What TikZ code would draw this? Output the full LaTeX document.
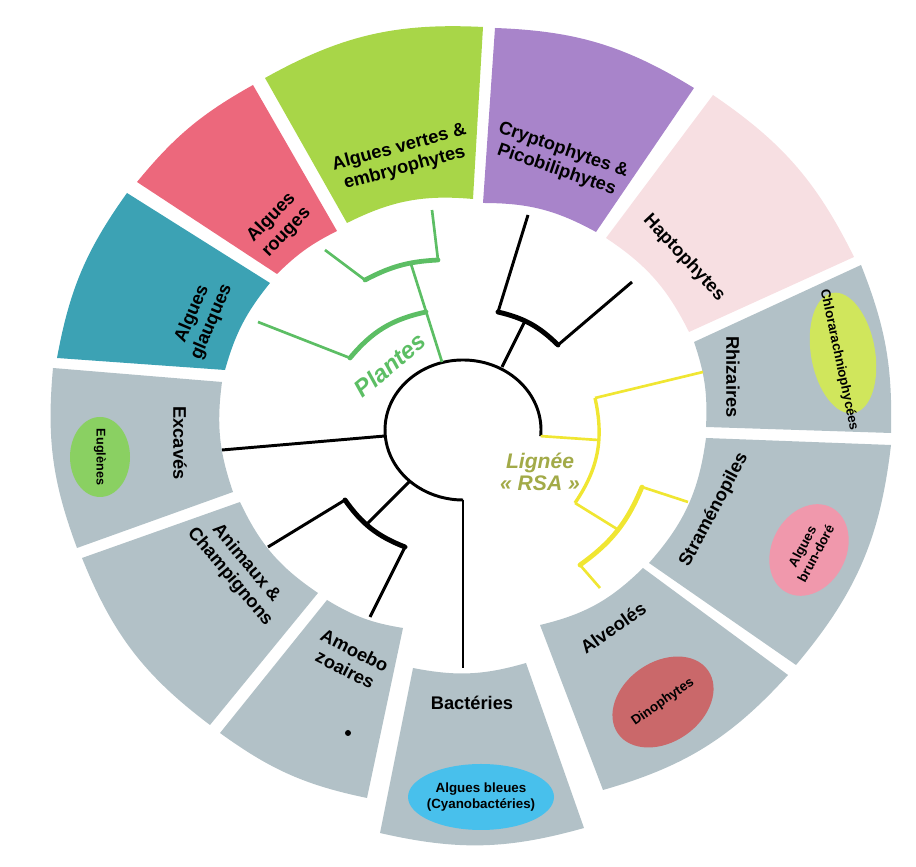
\documentclass[tikz,border=0pt]{standalone}
\usepackage{fontspec}
\setmainfont{Liberation Sans}

\definecolor{crypto}{RGB}{168,132,202}
\definecolor{vertes}{RGB}{168,214,72}
\definecolor{rouges}{RGB}{236,104,124}
\definecolor{glauques}{RGB}{60,162,180}
\definecolor{hapto}{RGB}{247,223,226}
\definecolor{grisbleu}{RGB}{178,193,199}
\definecolor{chlora}{RGB}{208,230,92}
\definecolor{euglene}{RGB}{138,208,98}
\definecolor{brundore}{RGB}{240,152,172}
\definecolor{dino}{RGB}{202,104,106}
\definecolor{cyano}{RGB}{72,192,236}
\definecolor{plantes}{RGB}{92,190,100}
\definecolor{rsa}{RGB}{240,230,50}
\definecolor{rsatext}{RGB}{162,170,72}

\tikzset{
  lab/.style={font=\bfseries\fontsize{13}{15}\selectfont, align=center, inner sep=0pt},
  petit/.style={font=\bfseries\fontsize{9.5}{11}\selectfont, align=center, inner sep=0pt},
  branche/.style={line width=2.1pt, line join=miter},
  barre/.style={line width=3.5pt, line cap=round},
  brfine/.style={line width=1.9pt},
  barfine/.style={line width=3.4pt, line cap=round}
}

\begin{document}
\begin{tikzpicture}[x=0.025cm,y=0.025cm]
\useasboundingbox (0,0) rectangle (916,867);

% anneau
\fill[grisbleu] (891,422) to[bend left=16.7] (796,202) -- (649,304) to[bend right=16.9] (706,429) -- cycle; % stramenopiles
\fill[grisbleu] (788,192) to[bend left=15.9] (603,77) -- (540,242) to[bend right=15.5] (643,299) -- cycle; % alveoles
\fill[grisbleu] (584,39) to[bend left=14.3] (380,34) -- (413,199) to[bend right=13.6] (526,204) -- cycle; % bacteries
\fill[grisbleu] (367,69) to[bend left=12.1] (220,134) -- (327,267) to[bend right=11] (403,239) -- cycle; % amoebozoaires
\fill[grisbleu] (210,142) to[bend left=15.5] (82,309) -- (240,365) to[bend right=15.3] (318,274) -- cycle; % animaux
\fill[grisbleu] (77,319) to[bend left=12.8] (53,499) -- (222,485) to[bend right=13.2] (233,375) -- cycle; % excaves
\fill[glauques] (57,509) to[bend left=12.6] (127,674) -- (270,584) to[bend right=11.6] (225,497) -- cycle;
\fill[rouges] (137,685) to[bend left=10.7] (253,782) -- (337,636) to[bend right=8.9] (277,593) -- cycle;
\fill[vertes] (265,789) to[bend left=16] (483,840) -- (473,668) to[bend right=15.8] (347,644) -- cycle;
\fill[crypto] (495,839) to[bend left=14.7] (694,779) -- (596,635) to[bend right=14.3] (483,664) -- cycle;
\fill[hapto] (713,772) to[bend left=14.7] (854,610) -- (689,535) to[bend right=14.9] (606,629) -- cycle;
\fill[grisbleu] (861,602) to[bend left=11.5] (891,434) -- (706,440) to[bend right=10.8] (694,525) -- cycle; % rhizaires

% ellipses
\fill[chlora, rotate around={-80:(843,514)}] (843,514) ellipse [x radius=61, y radius=32];
\fill[brundore, rotate around={62:(809,317)}] (809,317) ellipse [x radius=48, y radius=37];
\fill[dino, rotate around={35:(663,165)}] (663,165) ellipse [x radius=55, y radius=40];
\fill[cyano] (481,70) ellipse [x radius=73, y radius=33];
\fill[euglene] (100,410) ellipse [x radius=30, y radius=40];
\fill (348,134) circle (3);

% arbre
\coordinate (racD) at (540.7,430.9);
\coordinate (racB) at (463,367);
\coordinate (bactF) at (463,199);
\coordinate (excR) at (385,431);
\coordinate (excF) at (222,417);

\coordinate (amRac) at (410,386);
\coordinate (amNoeud) at (367,343);
\coordinate (animCoin) at (345,367);
\coordinate (amoeCoin) at (405,320);
\coordinate (animF) at (268,320);
\coordinate (amoeF) at (370,250);

\coordinate (crRac) at (502,500);
\coordinate (crNoeud) at (525,546);
\coordinate (cryCoin) at (498,555);
\coordinate (hapCoin) at (558,522);
\coordinate (cryF) at (528,652);
\coordinate (hapF) at (632,585);

\coordinate (plRac) at (442,505);
\coordinate (plNoeud) at (411,603);
\coordinate (glNoeud) at (426,555);
\coordinate (glCoin) at (350,509);
\coordinate (glF) at (258,545);
\coordinate (rgCoin) at (365,587);
\coordinate (vtCoin) at (438,607);
\coordinate (rgF) at (325,617);
\coordinate (vtF) at (432,657);

\coordinate (rsaNoeud) at (598,427);
\coordinate (rhCoin) at (595,469);
\coordinate (saCoin) at (575,364);
\coordinate (rhF) at (703,495);
\coordinate (saNoeud) at (617,338);
\coordinate (stCoin) at (642,380);
\coordinate (alCoin) at (580,302);
\coordinate (stF) at (688,365);
\coordinate (alF) at (600,279);

\draw[branche] (racD) arc[start angle=-5, end angle=270, x radius=78, y radius=70];
\draw[branche] (racB) -- (bactF);
\draw[branche] (excR) -- (excF);

\draw[branche] (amRac) -- (amNoeud);
\draw[barre] (animCoin) to[bend right=16.6] (amoeCoin);
\draw[branche] (animCoin) -- (animF);
\draw[branche] (amoeCoin) -- (amoeF);

\draw[branche] (crRac) -- (crNoeud);
\draw[barre] (cryCoin) to[bend left=15.6] (hapCoin);
\draw[branche] (cryCoin) -- (cryF);
\draw[branche] (hapCoin) -- (hapF);

\draw[brfine, plantes] (plRac) -- (plNoeud);
\draw[barfine, plantes] (glNoeud) to[bend right=19] (glCoin);
\draw[brfine, plantes] (glCoin) -- (glF);
\draw[barfine, plantes] (rgCoin) to[bend left=12.3] (vtCoin);
\draw[brfine, plantes] (rgCoin) -- (rgF);
\draw[brfine, plantes] (vtCoin) -- (vtF);

\draw[brfine, rsa] (racD) -- (rsaNoeud);
\draw[brfine, rsa, line width=2.4pt] (rhCoin) to[bend left=23.4] (saCoin);
\draw[brfine, rsa] (rhCoin) -- (rhF);
\draw[brfine, rsa] (saCoin) -- (saNoeud);
\draw[barfine, rsa] (stCoin) to[bend left=15.8] (alCoin);
\draw[brfine, rsa] (stCoin) -- (stF);
\draw[brfine, rsa] (alCoin) -- (alF);

% textes
\node[lab, rotate=15] (tVertes) at (402,709) {Algues vertes \&\\embryophytes};
\node[lab, rotate=-19] (tCrypto) at (560,707) {Cryptophytes \&\\Picobiliphytes};
\node[lab, rotate=-47] (tHapto) at (684,609) {Haptophytes};
\node[lab, rotate=-90] (tRhiz) at (733,490) {Rhizaires};
\node[petit, rotate=-78] (tChlora) at (839,507) {Chlorarachniophycées};
\node[lab, rotate=62] (tStram) at (714,357) {Straménopiles};
\node[petit, rotate=62] (tBrun) at (809,317) {Algues\\brun-doré};
\node[lab, rotate=35] (tAlv) at (613,239) {Alveolés};
\node[petit, rotate=35] (tDino) at (663,165) {Dinophytes};
\node[lab] (tBact) at (472,164) {Bactéries};
\node[petit] (tCyano) at (481,70) {Algues bleues\\(Cyanobactéries)};
\node[lab, rotate=-27] (tAmoebo) at (350,207) {Amoebo\\zoaires};
\node[lab, rotate=-50] (tAnim) at (238,297) {Animaux \&\\Champignons};
\node[lab, rotate=-90] (tExc) at (180,424) {Excavés};
\node[petit, font=\bfseries\fontsize{9}{10}\selectfont, rotate=-90] (tEugl) at (100,410) {Euglènes};
\node[lab, rotate=67] (tGlauq) at (202,549) {Algues\\glauques};
\node[lab, rotate=46] (tRouges) at (279,642) {Algues\\rouges};
\node[font=\bfseries\itshape\fontsize{17}{19}\selectfont, text=plantes, rotate=40, inner sep=0pt] (tPlantes) at (390,502) {Plantes};
\node[font=\bfseries\itshape\fontsize{15}{16}\selectfont, text=rsatext, align=center, inner sep=0pt] (tRSA) at (540,395) {Lignée\\« RSA »};

\end{tikzpicture}
\end{document}
